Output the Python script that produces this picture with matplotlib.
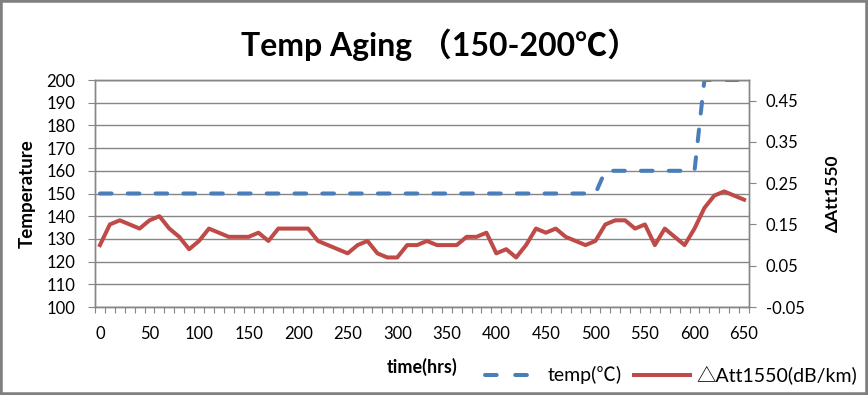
import matplotlib
matplotlib.use("Agg")
import matplotlib.pyplot as plt
from matplotlib.patches import Rectangle
from matplotlib.lines import Line2D
from matplotlib.ticker import MultipleLocator, FixedLocator

plt.rcParams['font.family'] = ['Lato', 'Noto Sans CJK SC', 'DejaVu Sans']

# ---- data ----
hours = [0, 10, 20, 30, 40, 50, 60, 70, 80, 90, 100, 110, 120, 130, 140, 150,
         160, 170, 180, 190, 200, 210, 220, 230, 240, 250, 260, 270, 280, 290,
         300, 310, 320, 330, 340, 350, 360, 370, 380, 390, 400, 410, 420, 430,
         440, 450, 460, 470, 480, 490, 500, 510, 520, 530, 540, 550, 560, 570,
         580, 590, 600, 610, 620, 630, 640, 650]
temp = [150, 150, 150, 150, 150, 150, 150, 150, 150, 150, 150, 150, 150, 150,
        150, 150, 150, 150, 150, 150, 150, 150, 150, 150, 150, 150, 150, 150,
        150, 150, 150, 150, 150, 150, 150, 150, 150, 150, 150, 150, 150, 150,
        150, 150, 150, 150, 150, 150, 150, 150, 150,
        160, 160, 160, 160, 160, 160, 160, 160, 160, 160,
        200, 200, 200, 200, 200]
att1550 = [0.10, 0.15, 0.16, 0.15, 0.14, 0.16, 0.17, 0.14, 0.12, 0.09, 0.11,
           0.14, 0.13, 0.12, 0.12, 0.12, 0.13, 0.11, 0.14, 0.14, 0.14, 0.14,
           0.11, 0.10, 0.09, 0.08, 0.10, 0.11, 0.08, 0.07, 0.07, 0.10, 0.10,
           0.11, 0.10, 0.10, 0.10, 0.12, 0.12, 0.13, 0.08, 0.09, 0.07, 0.10,
           0.14, 0.13, 0.14, 0.12, 0.11, 0.10, 0.11, 0.15, 0.16, 0.16, 0.14,
           0.15, 0.10, 0.14, 0.12, 0.10, 0.14, 0.19, 0.22, 0.23, 0.22, 0.21]
xtick_labels = [0, 50, 100, 150, 200, 250, 300, 350, 400, 450, 500, 550, 600, 650]
left_ticks = [100, 110, 120, 130, 140, 150, 160, 170, 180, 190, 200]
right_ticks = [-0.05, 0.05, 0.15, 0.25, 0.35, 0.45]
right_labels = ['-0.05', '0.05', '0.15', '0.25', '0.35', '0.45']

BLUE = '#4A7EBB'
RED = '#BE4B48'
GRID = '#868686'

fig = plt.figure(figsize=(8.68, 3.95), dpi=100)
ax = fig.add_axes([95/868, 1 - 307/395, 654/868, 227/395])
ax2 = ax.twinx()

# temp (left axis)
ax.plot(hours, temp, color=BLUE, lw=2.9, linestyle=(0, (2.9, 4.0)),
        dash_capstyle='round', zorder=3)
# attenuation (right axis)
l2, = ax2.plot(hours, att1550, color=RED, lw=2.9, solid_joinstyle='round',
               label='△Att1550(dB/km)', zorder=3)
l1 = Line2D([], [], color=BLUE, lw=2.9, linestyle=(0, (2.9, 4.6)),
            dash_capstyle='round', label='temp(℃)')

ax.set_xlim(-5, 655)
ax.set_ylim(100, 200)
ax2.set_ylim(-0.05, 0.5)

ax.set_xticks(xtick_labels)
ax.set_xticklabels([str(v) for v in xtick_labels])
ax.xaxis.set_minor_locator(MultipleLocator(10, offset=5))
ax.tick_params(axis='x', which='major', length=0, pad=14, labelsize=12)
ax.tick_params(axis='x', which='minor', length=4, color=GRID, width=0.8,
               direction='out')

ax.set_yticks(left_ticks)
ax.tick_params(axis='y', which='major', length=5, color=GRID, width=0.8,
               pad=9, labelsize=12)
ax.yaxis.grid(True, color=GRID, lw=1.0)
ax.set_axisbelow(True)

ax2.yaxis.set_major_locator(FixedLocator(right_ticks))
ax2.set_yticklabels(right_labels)
ax2.tick_params(axis='y', which='major', length=5, color=GRID, width=0.8,
                pad=7, labelsize=12)

for a in (ax, ax2):
    for s in a.spines.values():
        s.set_color(GRID)
        s.set_linewidth(1.0)

ax.set_xlabel('time(hrs)', fontsize=13, fontweight='bold', labelpad=11)
ax.set_ylabel('Temperature', fontsize=13.5, fontweight='bold', labelpad=8)
ax2.set_ylabel('ΔAtt1550', fontsize=12.5, fontweight='bold', rotation=90,
               labelpad=15)

fig.text(440/868, 1 - 45/395, 'Temp Aging （150-200℃）', ha='center',
         va='center', fontsize=23, fontweight='bold')

fig.legend(handles=[l1, l2], loc='lower right', bbox_to_anchor=(1.0, 0.0),
           ncol=2, frameon=False, fontsize=14, handlelength=2.85,
           handletextpad=0.35, columnspacing=0.65, borderaxespad=0.15)

fig.patches.append(Rectangle((0, 0), 1, 1, transform=fig.transFigure,
                             fill=False, edgecolor='#808080', lw=4,
                             clip_on=False))

fig.savefig('out.png', dpi=100)
